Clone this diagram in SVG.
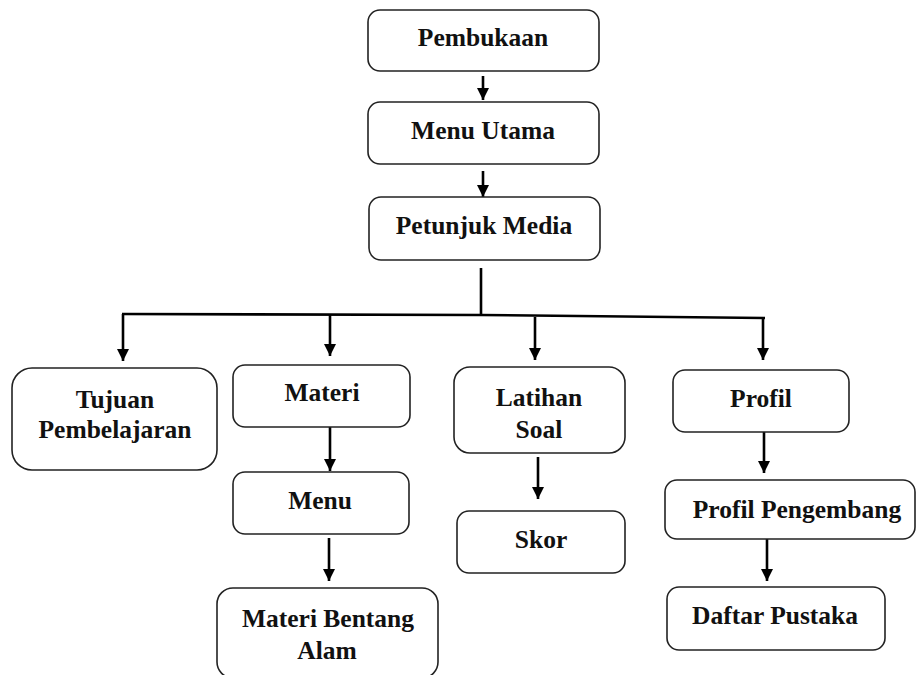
<svg xmlns="http://www.w3.org/2000/svg" width="920" height="675" viewBox="0 0 920 675">
<defs>
<marker id="arr" markerUnits="userSpaceOnUse" markerWidth="12" markerHeight="13" viewBox="0 0 12 13" refX="12" refY="6" orient="auto">
<path d="M0,0 L12,6 L0,12 Z" fill="#000"/>
</marker>
</defs>
<style>
.box{fill:#fff;stroke:#222;stroke-width:1.6}
.t{font-family:"Liberation Serif","Times New Roman",serif;font-weight:bold;font-size:25.5px;fill:#111;text-anchor:middle}
.c{fill:none;stroke:#000;stroke-width:2.6}
.ca{fill:none;stroke:#000;stroke-width:2.6;marker-end:url(#arr)}
</style>
<rect width="920" height="675" fill="#fff"/>
<g id="connectors">
<path class="ca" d="M483,76 V100"/>
<path class="ca" d="M483,171 V197"/>
<path class="c" d="M481,268 V315"/>
<path class="c" d="M122,314 L481,315 L765,318"/>
<path class="ca" d="M123,314 V361"/>
<path class="ca" d="M330,314 V356"/>
<path class="ca" d="M535,317 V360"/>
<path class="ca" d="M763,318 V360"/>
<path class="ca" d="M330,427 V471"/>
<path class="ca" d="M329,538 V581"/>
<path class="ca" d="M538,457 V499"/>
<path class="ca" d="M764,432 V473"/>
<path class="ca" d="M767,539 V581"/>
</g>
<g id="pembukaan"><rect class="box" x="368" y="10" width="231" height="61" rx="12"/><text class="t" x="483" y="46">Pembukaan</text></g>
<g id="menu-utama"><rect class="box" x="368" y="102" width="231" height="62" rx="12"/><text class="t" x="483" y="139">Menu Utama</text></g>
<g id="petunjuk-media"><rect class="box" x="369" y="197" width="231" height="63" rx="12"/><text class="t" x="484" y="234">Petunjuk Media</text></g>
<g id="tujuan"><rect class="box" x="12" y="368" width="205" height="102" rx="20"/><text class="t" x="115" y="408">Tujuan</text><text class="t" x="115" y="438">Pembelajaran</text></g>
<g id="materi"><rect class="box" x="233" y="365" width="177" height="62" rx="12"/><text class="t" x="322" y="401">Materi</text></g>
<g id="menu"><rect class="box" x="233" y="472" width="176" height="62" rx="12"/><text class="t" x="320" y="509">Menu</text></g>
<g id="materi-bentang-alam"><rect class="box" x="217" y="588" width="221" height="90" rx="16"/><text class="t" x="328" y="627">Materi Bentang</text><text class="t" x="327" y="659">Alam</text></g>
<g id="latihan-soal"><rect class="box" x="454" y="367" width="171" height="86" rx="16"/><text class="t" x="539" y="406">Latihan</text><text class="t" x="539" y="438">Soal</text></g>
<g id="skor"><rect class="box" x="457" y="511" width="168" height="62" rx="12"/><text class="t" x="541" y="548">Skor</text></g>
<g id="profil"><rect class="box" x="673" y="370" width="176" height="62" rx="12"/><text class="t" x="761" y="407">Profil</text></g>
<g id="profil-pengembang"><rect class="box" x="665" y="480" width="250" height="59" rx="12"/><text class="t" x="797" y="518">Profil Pengembang</text></g>
<g id="daftar-pustaka"><rect class="box" x="667" y="587" width="218" height="63" rx="12"/><text class="t" x="775" y="624">Daftar Pustaka</text></g>
</svg>
